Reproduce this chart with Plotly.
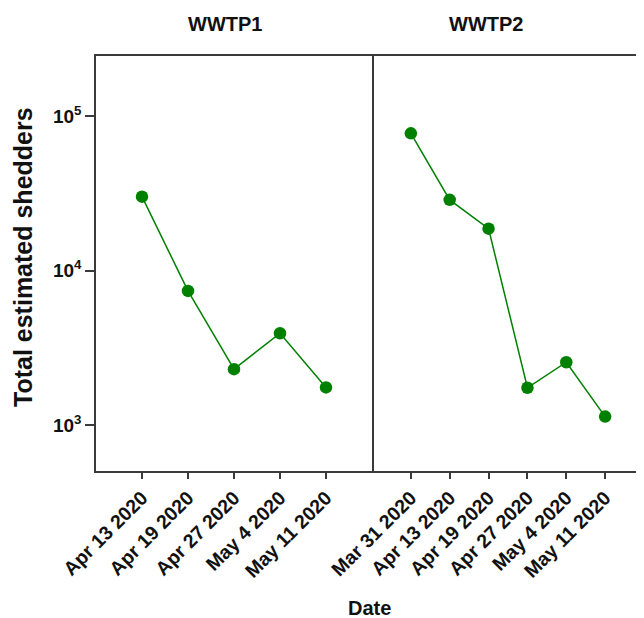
import plotly.graph_objects as go

dates1 = ["Apr 13 2020", "Apr 19 2020", "Apr 27 2020", "May 4 2020", "May 11 2020"]
shedders1 = [30100, 7400, 2310, 3940, 1760]

dates2 = ["Mar 31 2020", "Apr 13 2020", "Apr 19 2020", "Apr 27 2020", "May 4 2020", "May 11 2020"]
shedders2 = [77300, 28700, 18700, 1750, 2560, 1140]

ytick_vals = [1e3, 1e4, 1e5]
ytick_text = ["10<sup>3</sup>", "10<sup>4</sup>", "10<sup>5</sup>"]

GREEN = "#008000"
AXC = "#3a3a3a"
FONT = "Liberation Sans, Arial, sans-serif"

fig = go.Figure()
fig.add_trace(go.Scatter(x=dates1, y=shedders1, mode="lines+markers",
                         line=dict(color=GREEN, width=1.5),
                         marker=dict(color=GREEN, size=12.5),
                         xaxis="x", yaxis="y", showlegend=False))
fig.add_trace(go.Scatter(x=dates2, y=shedders2, mode="lines+markers",
                         line=dict(color=GREEN, width=1.5),
                         marker=dict(color=GREEN, size=12.5),
                         xaxis="x2", yaxis="y2", showlegend=False))

OFF = 8  # page body margin
W, H = 644 - OFF, 618 - OFF
ml, mt, mb = 96 - OFF, 56 - OFF, 618 - 471
pw = W - ml
ph = H - mt - mb
split = 276 / pw

xcommon = dict(type="category", showgrid=False, zeroline=False,
               ticks="outside", ticklen=6, tickwidth=1.5, tickcolor=AXC,
               tickangle=-45,
               tickfont=dict(family=FONT, size=19.5, color="#111", weight="bold"),
               showline=True, linecolor=AXC, linewidth=1.5, mirror=True)

fig.update_layout(
    width=W, height=H,
    margin=dict(l=ml, r=0, t=mt, b=mb, autoexpand=False),
    paper_bgcolor="white", plot_bgcolor="white",
    font=dict(family=FONT),
    xaxis=dict(domain=[0, split], range=[-1, 5],
               categoryorder="array", categoryarray=dates1, **xcommon),
    xaxis2=dict(domain=[split, 1], range=[-1, 6.0], anchor="y2",
                categoryorder="array", categoryarray=dates2, **xcommon),
    yaxis=dict(type="log", range=[2.705, 5.388], domain=[0, 1],
               tickvals=ytick_vals, ticktext=ytick_text,
               ticks="outside", ticklen=9, tickwidth=1.5, tickcolor=AXC,
               tickfont=dict(family=FONT, size=19, color="#111", weight="bold"),
               showgrid=False, zeroline=False,
               showline=True, linecolor=AXC, linewidth=1.5, mirror=True),
    yaxis2=dict(type="log", range=[2.705, 5.388], domain=[0, 1], anchor="x2",
                showticklabels=False, ticks="", showgrid=False, zeroline=False,
                showline=False),
    annotations=[
        dict(text="<b>WWTP1</b>", x=225, y=24,
             font=dict(family=FONT, size=20, color="#111")),
        dict(text="<b>WWTP2</b>", x=486, y=24,
             font=dict(family=FONT, size=20, color="#111")),
        dict(text="<b>Date</b>", x=369, y=608,
             font=dict(family=FONT, size=20, color="#111")),
        dict(text="<b>Total estimated shedders</b>", x=23, y=257, textangle=-90,
             font=dict(family=FONT, size=25, color="#111")),
    ],
)

# convert page-pixel annotation positions to paper coordinates
for a in fig.layout.annotations:
    a.x = (a.x - OFF - ml) / pw
    a.y = (H - (a.y - OFF) - mb) / ph
    a.xref = "paper"
    a.yref = "paper"
    a.xanchor = "center"
    a.yanchor = "middle"
    a.showarrow = False

fig.write_html("out.html")
